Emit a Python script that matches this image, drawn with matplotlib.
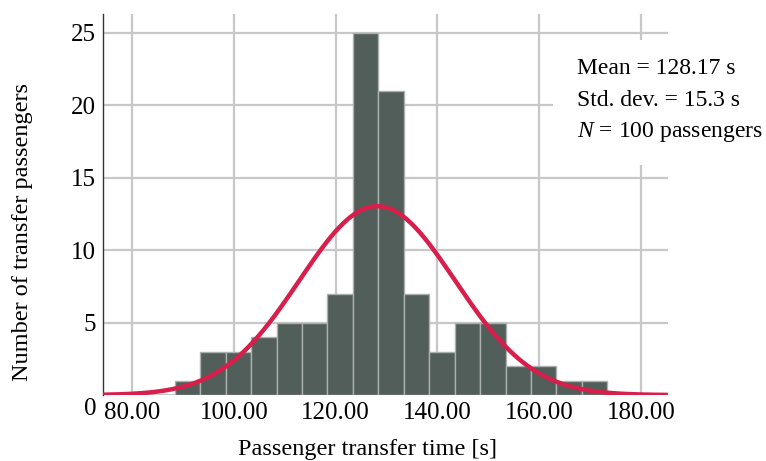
import numpy as np
import matplotlib
matplotlib.use("Agg")
import matplotlib.pyplot as plt
from matplotlib.patches import Rectangle
from matplotlib.transforms import ScaledTranslation

# histogram of transfer times (bin width 5 s)
bin_edges = [88.4, 93.4, 98.4, 103.4, 108.4, 113.4, 118.4, 123.4, 128.4,
             133.4, 138.4, 143.4, 148.4, 153.4, 158.4, 163.4, 168.4, 173.4]
counts = [1, 3, 3, 4, 5, 5, 7, 25, 21, 7, 3, 5, 5, 2, 2, 1, 1]
mean_t = 128.17
std_t = 15.3
n_pass = 100
xticks = [80, 100, 120, 140, 160, 180]
yticks = [0, 5, 10, 15, 20, 25]

plt.rcParams['font.family'] = ['Liberation Serif', 'DejaVu Serif']
plt.rcParams['mathtext.fontset'] = 'custom'
plt.rcParams['mathtext.rm'] = 'Liberation Serif'
plt.rcParams['mathtext.it'] = 'Liberation Serif:italic'

fig = plt.figure(figsize=(7.66, 4.61), dpi=100)
ax = fig.add_axes([0.1345, 0.143, 0.7375, 0.8266])

edges = np.array(bin_edges)
ax.bar(edges[:-1], counts, width=np.diff(edges), align='edge',
       color='#525e59', edgecolor='#a9b0ad', linewidth=1.0, zorder=2)

# fitted normal curve scaled to counts
xs = np.linspace(74.3, 185.3, 400)
bw = edges[1] - edges[0]
ys = n_pass * bw / (std_t * np.sqrt(2 * np.pi)) * np.exp(-0.5 * ((xs - mean_t) / std_t) ** 2)
ax.plot(xs, ys, color='#d81e4a', lw=3.2, zorder=3, solid_capstyle='butt')

ax.set_xlim(74.3, 185.3)
ax.set_ylim(0, 26.3)
ax.set_xticks(xticks)
ax.set_xticklabels(['%.2f' % v for v in xticks])
ax.set_yticks(yticks)
ax.tick_params(length=0, labelsize=18, pad=5)
# the zero label sits a little below its line
lab0 = ax.yaxis.get_major_ticks()[0].label1
lab0.set_transform(lab0.get_transform() + ScaledTranslation(0, -8 / 72, fig.dpi_scale_trans))
ax.grid(True, color='#c8c8c8', lw=1.6, zorder=0)
ax.set_axisbelow(True)
for s in ['top', 'right', 'bottom']:
    ax.spines[s].set_visible(False)
ax.spines['left'].set_color('#333333')
ax.spines['left'].set_linewidth(1.0)

ax.set_xlabel('Passenger transfer time [s]', fontsize=17.5)
ax.xaxis.set_label_coords(0.469, -0.114)
ax.set_ylabel('Number of transfer passengers', fontsize=17.5)
ax.yaxis.set_label_coords(-0.124, 0.428)

# white box behind the summary stats
fig.patches.append(Rectangle((0.722, 0.642), 0.278, 0.271, transform=fig.transFigure,
                             facecolor='white', edgecolor='none', zorder=4))
lines = ['Mean = %.2f s' % mean_t,
         'Std. dev. = %.1f s' % std_t,
         '$\\mathit{N}$ = %d passengers' % n_pass]
for i, t in enumerate(lines):
    fig.text(0.753, 1 - (68 + 32 * i) / 461, t, fontsize=17, va='center', ha='left', zorder=5)

fig.savefig('out.png', dpi=100)
